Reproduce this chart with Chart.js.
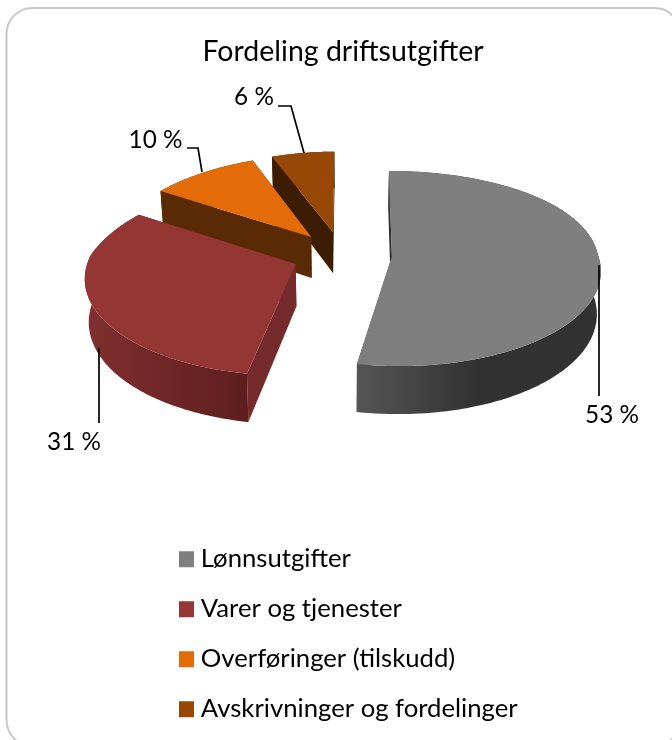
<!DOCTYPE html>
<html lang="no">
<head>
<meta charset="UTF-8">
<title>Fordeling driftsutgifter</title>
<style>
    html, body { margin: 0; padding: 0; background: #fff; }
    #wrap { position: relative; width: 672px; height: 740px; overflow: hidden; }
</style>
</head>
<body>
<div id="wrap"><canvas id="chart" width="672" height="740"></canvas></div>
<script src="https://cdn.jsdelivr.net/npm/chart.js"></script>
<script>
const categories = ['Lønnsutgifter', 'Varer og tjenester', 'Overføringer (tilskudd)', 'Avskrivninger og fordelinger'];
const values = [52.85, 31.15, 10, 6];
const valueLabels = ['53 %', '31 %', '10 %', '6 %'];
const colors = ['#7f7f7f', '#943634', '#e36c09', '#974806'];
const cutColors = ['#303030', '#752b2b', '#5a2a04', '#3c1c02'];
const wallLeft = ['#555555', '#7f2f2e', '#5a2a04', '#3c1c02'];
const wallRight = ['#323232', '#5e1e1e', '#5a2a04', '#3c1c02'];

// view of the tilted pie, fitted to the reference
const view = { cx: 342, cy: 254.5, radius: 206, explode: 50, tilt: 0.464, persp: 0.000594, perspFarLeft: 0.0009, perspFarRight: 0.0003, depth: 42, taper: 0.00037 };

function project(u, v, z) {
    const f = 1 / (1 - view.persp * v);
    // the far half narrows differently in x than in y, more so on the left
    const fx = v < 0 ? 1 / (1 - (u < 0 ? view.perspFarLeft : view.perspFarRight) * v) : f;
    return { x: view.cx + u * fx * (1 - view.taper * z), y: view.cy + view.tilt * v * f + z * f };
}

// chart.js angles: 0 = +x, clockwise, so top of the pie is -PI/2
function onDisc(arc, angle, r, z) {
    const mid = (arc.startAngle + arc.endAngle) / 2;
    const u = Math.cos(mid) * view.explode + Math.cos(angle) * r;
    const v = Math.sin(mid) * view.explode + Math.sin(angle) * r;
    return project(u, v, z);
}

function arcPoints(arc, z) {
    const pts = [];
    const steps = Math.max(8, Math.ceil((arc.endAngle - arc.startAngle) * 60));
    for (let i = 0; i <= steps; i++) {
        const a = arc.startAngle + (arc.endAngle - arc.startAngle) * i / steps;
        pts.push(onDisc(arc, a, view.radius, z));
    }
    return pts;
}

function fillPoly(ctx, pts, fill) {
    ctx.beginPath();
    pts.forEach((p, i) => i ? ctx.lineTo(p.x, p.y) : ctx.moveTo(p.x, p.y));
    ctx.closePath();
    ctx.fillStyle = fill;
    ctx.fill();
}

const pie3d = {
    id: 'pie3d',
    afterLayout(chart) {
        chart.legend.left = 160.7;
        chart.legend.top = 522;
        chart.legend.bottom = 800;
    },
    beforeDraw(chart) {
        const ctx = chart.ctx;
        ctx.save();
        ctx.beginPath();
        ctx.roundRect(6.5, 8, 674, 738, 26);
        ctx.lineWidth = 2;
        ctx.strokeStyle = '#c8c8c8';
        ctx.stroke();
        ctx.restore();
    },
    beforeDatasetsDraw(chart) {
        const ctx = chart.ctx;
        const arcs = chart.getDatasetMeta(0).data;
        // back to front
        const order = arcs.map((arc, i) => i).sort((a, b) => b - a);
        ctx.save();
        order.forEach(i => {
            const arc = arcs[i];
            const apexTop = onDisc(arc, 0, 0, 0);
            const apexBot = onDisc(arc, 0, 0, view.depth);
            const top = arcPoints(arc, 0);
            const bot = arcPoints(arc, view.depth);
            const last = top.length - 1;
            fillPoly(ctx, [apexTop, top[0], bot[0], apexBot], cutColors[i]);
            fillPoly(ctx, [apexTop, top[last], bot[last], apexBot], cutColors[i]);
            const xs = bot.map(p => p.x);
            const g = ctx.createLinearGradient(Math.min(...xs), 0, Math.max(...xs), 0);
            g.addColorStop(0, wallLeft[i]);
            if (i === 0) g.addColorStop(0.5, wallRight[i]);
            g.addColorStop(1, wallRight[i]);
            fillPoly(ctx, top.concat(bot.slice().reverse()), g);
            fillPoly(ctx, [apexTop].concat(top), colors[i]);
        });
        ctx.restore();
    },
    afterDatasetsDraw(chart) {
        const ctx = chart.ctx;
        ctx.save();
        ctx.strokeStyle = '#000';
        ctx.lineWidth = 1.7;
        leaderLines.forEach(line => {
            ctx.beginPath();
            line.forEach((p, i) => i ? ctx.lineTo(p[0], p[1]) : ctx.moveTo(p[0], p[1]));
            ctx.stroke();
        });
        ctx.fillStyle = '#000';
        ctx.font = '24.3px Lato';
        ctx.textAlign = 'center';
        ctx.textBaseline = 'middle';
        valueLabels.forEach((t, i) => ctx.fillText(t, labelPos[i][0], labelPos[i][1]));
        ctx.restore();
    }
};

const labelPos = [[612, 415], [74, 442], [155.5, 140], [254, 97]];
const leaderLines = [
    [[599, 265], [599, 396]],
    [[99, 348], [99, 423]],
    [[187, 148], [198, 148], [202, 172]],
    [[278, 106], [291, 106], [304, 153]]
];

new Chart(document.getElementById('chart'), {
    type: 'pie',
    data: {
        labels: categories,
        datasets: [{ data: values, backgroundColor: 'rgba(0,0,0,0)', borderWidth: 0 }]
    },
    options: {
        responsive: false,
        animation: false,
        layout: { padding: { left: 14 } },
        plugins: {
            tooltip: { enabled: false },
            title: {
                display: true,
                text: 'Fordeling driftsutgifter',
                color: '#000',
                font: { family: 'Lato', size: 28.5, weight: 'normal' },
                padding: { top: 35, bottom: 10 }
            },
            legend: {
                position: 'chartArea',
                align: 'start',
                labels: {
                    // thin box plus a thick border: gives the 15px square with the text close to it
                    boxWidth: 3,
                    boxHeight: 4,
                    padding: 24.3,
                    color: '#000',
                    font: { family: 'Lato', size: 25.7 },
                    generateLabels: () => categories.map((c, i) => ({
                        text: c, fillStyle: colors[i], strokeStyle: colors[i], lineWidth: 12, lineJoin: 'miter', index: i
                    }))
                }
            }
        }
    },
    plugins: [pie3d]
});
</script>
</body>
</html>
